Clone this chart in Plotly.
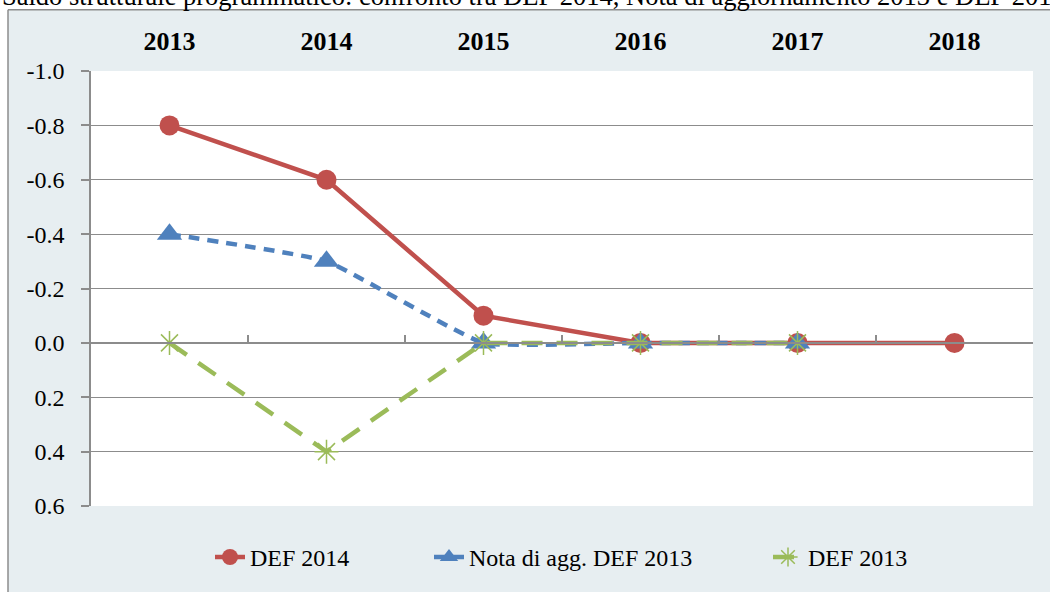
import plotly.graph_objects as go

years = ["2013", "2014", "2015", "2016", "2017", "2018"]
def_2014 = [-0.8, -0.6, -0.1, 0.0, 0.0, 0.0]
nota_def_2013 = [-0.4, -0.3, 0.0, 0.0, 0.0, None]
def_2013 = [0.0, 0.4, 0.0, 0.0, 0.0, None]
y_ticks = [-1.0, -0.8, -0.6, -0.4, -0.2, 0.0, 0.2, 0.4, 0.6]
y_ticktext = ["-1.0", "-0.8", "-0.6", "-0.4", "-0.2", "0.0", "0.2", "0.4", "0.6"]
title_text = "Saldo strutturale programmatico: confronto tra DEF 2014, Nota di aggiornamento 2013 e DEF 2013"

RED, BLUE, GREEN = "#c0504d", "#4f81bd", "#9bbb59"
GRID = "#8c8c8c"
FONT = "'Liberation Serif', 'Times New Roman', serif"

W, H = 1050, 592
ml, mr, mt, mb = 91, 17, 71, 81
pw, ph = W - ml - mr, H - mt - mb

def px_x(p):
    return (p - ml) / pw

def px_y(p):
    return (H - mb - p) / ph

fig = go.Figure()
fig.add_trace(go.Scatter(
    x=years, y=def_2014, name="DEF 2014", mode="lines+markers",
    line=dict(color=RED, width=4.5),
    marker=dict(symbol="circle", size=20, color=RED),
    legendwidth=174,
))
fig.add_trace(go.Scatter(
    x=years, y=nota_def_2013, name="Nota di agg. DEF 2013", mode="lines+markers",
    line=dict(color=BLUE, width=4.5, dash="11px,8px", shape="spline", smoothing=0.35),
    marker=dict(symbol="triangle-up", size=22, color=BLUE),
    legendwidth=294,
))
fig.add_trace(go.Scatter(
    x=years, y=def_2013, name="DEF 2013", mode="lines+markers",
    line=dict(color=GREEN, width=4.5, dash="21px,14px"),
    marker=dict(symbol="asterisk", size=20, color=GREEN, line=dict(color=GREEN, width=1.5)),
    legendwidth=110,
))
# helper trace to attach the category axis that crosses at zero
fig.add_trace(go.Scatter(x=[], y=[], xaxis="x2", showlegend=False, hoverinfo="skip"))

n = len(years)
ymin, ymax = max(y_ticks), min(y_ticks)
zero_pos = ymin / (ymin - ymax)

fig.update_layout(
    width=W, height=H,
    margin=dict(l=ml, r=mr, t=mt, b=mb, pad=0),
    paper_bgcolor="#e7eef1",
    plot_bgcolor="white",
    font=dict(family=FONT, size=24, color="black"),
    showlegend=True,
    legend=dict(
        orientation="h", x=px_x(210), xanchor="left", y=px_y(563), yanchor="middle",
        font=dict(family=FONT, size=24, color="black"),
        bgcolor="rgba(0,0,0,0)", itemsizing="trace",
    ),
    xaxis=dict(
        type="category", side="top", range=[-0.5, n - 0.5],
        showgrid=False, showline=False, zeroline=False, ticks="",
        tickfont=dict(family=FONT, size=26, color="black", weight="bold"),
        ticklabelstandoff=15,
    ),
    xaxis2=dict(
        overlaying="x", anchor="free", position=zero_pos, side="bottom",
        range=[-0.5, n - 0.5], showgrid=False, zeroline=False,
        showline=True, linecolor=GRID, linewidth=1.5,
        ticks="inside", ticklen=7, tickcolor=GRID, tickwidth=1.5,
        tickvals=[i + 0.5 for i in range(n - 1)], showticklabels=False,
    ),
    yaxis=dict(
        range=[ymin, ymax], tickvals=y_ticks, ticktext=y_ticktext,
        showgrid=True, gridcolor=GRID, gridwidth=1.3, zeroline=False,
        showline=True, linecolor=GRID, linewidth=1.5,
        ticks="outside", ticklen=8, tickcolor=GRID, tickwidth=1.5,
        tickfont=dict(family=FONT, size=24, color="black"),
        ticklabelstandoff=12,
    ),
    shapes=[
        dict(type="rect", xref="paper", yref="paper", x0=-0.2, x1=1.2,
             y0=px_y(9), y1=px_y(-40), fillcolor="white", line_width=0, layer="below"),
        dict(type="rect", xref="paper", yref="paper", x0=-0.2, x1=px_x(8),
             y0=px_y(640), y1=px_y(-40), fillcolor="white", line_width=0, layer="below"),
        dict(type="line", xref="paper", yref="paper", x0=px_x(8), x1=1.2,
             y0=px_y(9), y1=px_y(9), line=dict(color=GRID, width=1.5), layer="below"),
        dict(type="line", xref="paper", yref="paper", x0=px_x(8), x1=px_x(8),
             y0=px_y(640), y1=px_y(9), line=dict(color=GRID, width=1.5), layer="below"),
    ],
    annotations=[
        dict(text=title_text, xref="paper", yref="paper", x=px_x(0), y=px_y(-5),
             xanchor="left", yanchor="middle", showarrow=False,
             font=dict(family=FONT, size=26.5, color="black")),
    ],
)

fig.write_html(
    "out.html",
    config={"displayModeBar": False},
    post_script="document.body.style.margin='0';document.body.style.overflow='hidden';",
)
